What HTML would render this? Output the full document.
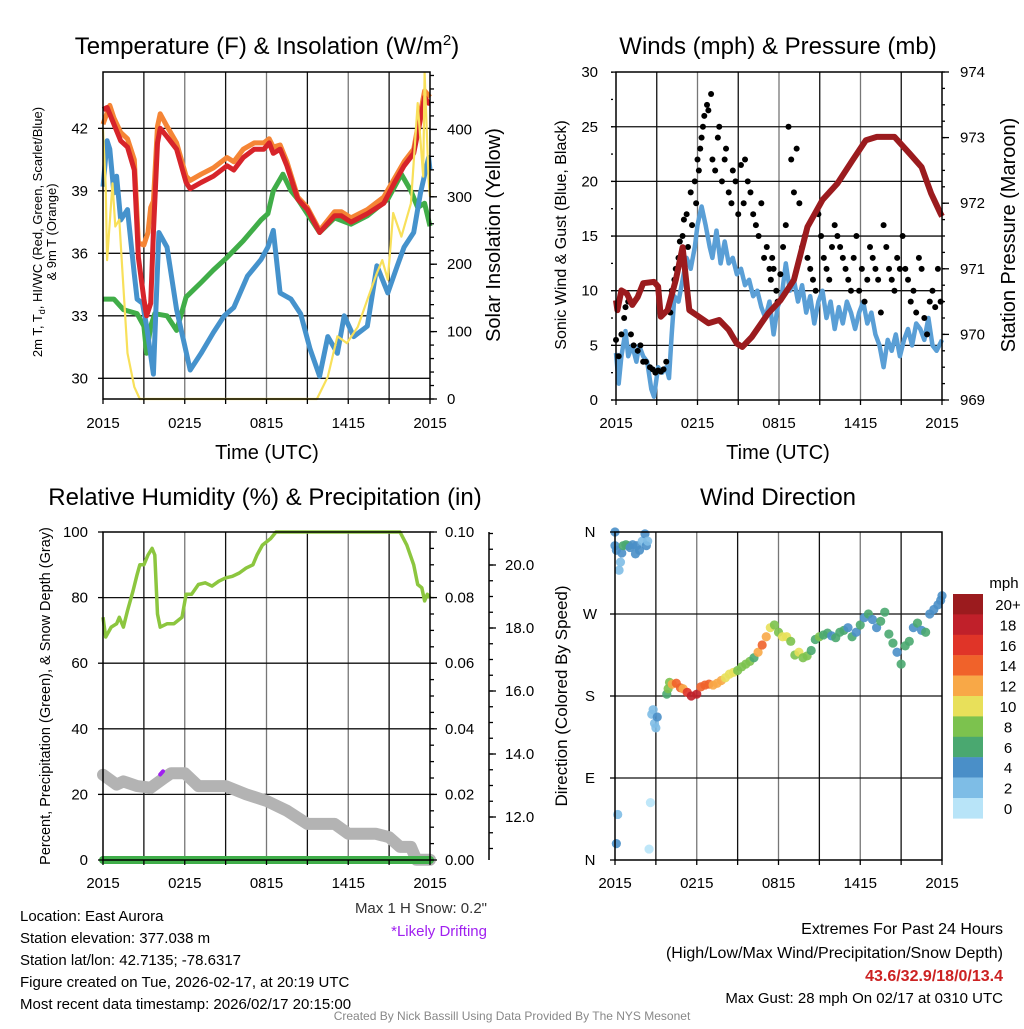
<!DOCTYPE html>
<html><head><meta charset="utf-8"><style>
body{margin:0;background:#fff}
svg text{font-family:"Liberation Sans",sans-serif;fill:#000}
</style></head><body>
<svg id="fig" xmlns="http://www.w3.org/2000/svg" width="1024" height="1024" viewBox="0 0 1024 1024">
<rect width="1024" height="1024" fill="#fff"/>
<g id="grid"></g>
<g id="series"></g>
<g id="frames" fill="none" stroke="#000" stroke-width="1.5">
<rect x="103" y="72" width="327" height="327"/>
<rect x="616" y="72" width="326" height="328"/>
<rect x="103" y="532" width="327" height="328"/>
<rect x="615" y="532" width="327" height="328"/>
<line x1="489" y1="532" x2="489" y2="860"/>
</g>
<g id="ticks"></g>
<g font-size="24" text-anchor="middle">
<text x="267" y="54">Temperature (F) &amp; Insolation (W/m<tspan dy="-9" font-size="15">2</tspan><tspan dy="9">)</tspan></text>
<text x="778" y="54">Winds (mph) &amp; Pressure (mb)</text>
<text x="265" y="505">Relative Humidity (%) &amp; Precipitation (in)</text>
<text x="778" y="505">Wind Direction</text>
</g>
<g font-size="20" text-anchor="middle">
<text x="267" y="459">Time (UTC)</text>
<text x="778" y="459">Time (UTC)</text>
<text transform="translate(500,235) rotate(-90)">Solar Insolation (Yellow)</text>
<text transform="translate(1015,235) rotate(-90)">Station Pressure (Maroon)</text>
</g>
<g font-size="13" text-anchor="middle">
<text transform="translate(42,232) rotate(-90)">2m T, T<tspan dy="3" font-size="9">d</tspan><tspan dy="-3">, HI/WC (Red, Green, Scarlet/Blue)</tspan></text>
<text transform="translate(56,232) rotate(-90)">&amp; 9m T (Orange)</text>
</g>
<text font-size="16" text-anchor="middle" transform="translate(566,235) rotate(-90)">Sonic Wind &amp; Gust (Blue, Black)</text>
<text font-size="14.5" text-anchor="middle" transform="translate(50,696) rotate(-90)">Percent, Precipitation (Green), &amp; Snow Depth (Gray)</text>
<text font-size="17" text-anchor="middle" transform="translate(567,696) rotate(-90)">Direction (Colored By Speed)</text>
<g id="labels" font-size="15"></g>
<g id="colorbar"></g>
<text x="1004" y="588" font-size="15" text-anchor="middle">mph</text>
<g font-size="15">
<text x="20" y="921">Location: East Aurora</text>
<text x="20" y="943">Station elevation: 377.038 m</text>
<text x="20" y="965">Station lat/lon: 42.7135; -78.6317</text>
<text x="20" y="987">Figure created on Tue, 2026-02-17, at 20:19 UTC</text>
<text x="20" y="1009">Most recent data timestamp: 2026/02/17 20:15:00</text>
<text x="487" y="913" text-anchor="end" style="fill:#333">Max 1 H Snow: 0.2"</text>
<text x="487" y="936" text-anchor="end" style="fill:#a020f0">*Likely Drifting</text>
<text x="1003" y="934" text-anchor="end" font-size="16">Extremes For Past 24 Hours</text>
<text x="1003" y="958" text-anchor="end" font-size="16">(High/Low/Max Wind/Precipitation/Snow Depth)</text>
<text x="1003" y="981" text-anchor="end" font-size="16" font-weight="bold" style="fill:#cc2222">43.6/32.9/18/0/13.4</text>
<text x="1003" y="1003" text-anchor="end" font-size="15">Max Gust: 28 mph On 02/17 at 0310 UTC</text>
<text x="512" y="1020" text-anchor="middle" font-size="12" style="fill:#888">Created By Nick Bassill Using Data Provided By The NYS Mesonet</text>
</g>
</svg>
<script>
// ---------- data ----------
const timeTicks = ["2015","0215","0815","1415","2015"];
const timeTickHours = [0,6,12,18,24];
const tempTicks = [30,33,36,39,42];
const solTicks = [0,100,200,300,400];
const windTicks = [0,5,10,15,20,25,30];
const presTicks = [969,970,971,972,973,974];
const rhTicks = [0,20,40,60,80,100];
const precTicks = ["0.00","0.02","0.04","0.06","0.08","0.10"];
const snowTicks = ["12.0","14.0","16.0","18.0","20.0"];
const dirTicks = ["N","E","S","W","N"];
const cbLabels = ["20+","18","16","14","12","10","8","6","4","2","0"];

const redH = [0,0.3,0.8,1.3,1.8,2.3,2.6,3.0,3.2,3.5,3.7,4.0,4.2,4.7,5.4,6.1,6.4,7.2,8.1,9.1,9.6,10.3,11.1,11.8,12.2,12.5,13.0,13.5,14.3,15.0,15.9,17.0,17.5,18.2,19.4,20.6,21.4,22.1,22.8,23.2,23.6,23.9,24];
const redT = [42.9,43.0,42.2,41.4,41.1,40.0,35.8,33.8,33.0,33.6,37.0,41.3,42.0,41.6,41.0,39.4,39.1,39.4,39.7,40.2,40.0,40.6,41.0,41.0,41.3,40.8,41.0,40.2,38.6,38.1,37.0,37.8,37.8,37.5,37.9,38.4,39.4,40.2,40.8,42.1,43.5,43.2,43.2];
const orH = [0,0.5,0.8,1.3,1.8,2.3,2.6,3.0,3.3,3.5,3.7,4.0,4.2,4.7,5.4,6.1,6.4,7.2,8.1,9.1,9.6,10.3,11.1,11.8,12.2,12.5,13.0,13.5,14.3,15.0,15.9,17.0,17.5,18.2,19.4,20.6,21.4,22.1,22.8,23.2,23.6,24];
const orT = [42.2,43.1,42.5,41.8,41.5,40.5,36.5,36.4,37.0,38.2,38.5,42.1,42.7,42.1,41.3,39.7,39.5,39.8,40.1,40.6,40.4,41.0,41.3,41.3,41.5,41.1,41.2,40.4,38.7,38.2,37.1,38.0,38.0,37.7,38.1,38.7,39.6,40.4,41.0,42.4,43.8,43.5];
const tdH = [0,0.8,1.5,2.5,3.0,3.2,3.5,3.8,4.7,5.4,6.1,7.2,8.1,9.1,10.3,11.6,12.1,12.5,13.2,13.8,14.3,15.9,17.0,18.2,19.4,20.9,21.9,22.6,23.1,23.6,24];
const tdT = [33.8,33.8,33.3,33.1,32.5,31.2,32.5,33.1,33.0,32.3,33.9,34.6,35.2,35.8,36.6,37.6,37.9,39.0,39.8,39.0,38.6,37.0,37.7,37.4,37.8,38.6,39.8,39.0,38.2,38.4,37.3];
const wcH = [0,0.3,0.5,0.8,1.0,1.3,1.8,2.3,2.5,2.9,3.2,3.7,4.1,4.7,5.4,6.4,7.2,8.1,8.9,9.6,10.6,11.6,12.1,12.5,13.0,13.8,14.5,15.2,15.9,16.5,17.2,17.7,18.4,19.4,20.1,20.9,21.6,22.1,22.8,23.3,23.9,24];
const wcT = [39.2,41.4,41.0,38.9,39.7,37.6,38.1,35.0,33.8,33.6,32.5,30.2,37.0,36.3,33.3,30.4,31.2,32.2,33.0,33.4,34.9,35.7,36.3,37.1,34.1,33.8,33.1,31.4,30.1,32.0,31.2,33.0,32.0,32.5,35.4,34.1,35.4,36.3,37.0,38.9,40.6,40.0];
const solH = [0,0.2,0.3,0.7,0.9,1.2,1.4,1.8,2.3,2.7,15.7,16.5,17.2,17.9,18.7,19.4,20.1,20.5,20.9,21.3,21.9,22.6,23.1,23.5,23.6,23.9,24];
const solW = [400,315,206,320,256,266,197,68,18,0,0,33,93,83,107,147,187,206,177,276,241,290,439,330,484,325,300];

const presH = [0,0.1,0.4,0.8,1.2,1.6,2.0,2.8,3.1,3.3,3.8,4.4,4.9,5.4,6.1,6.8,7.6,8.3,8.9,9.3,10.0,11.2,12.1,13.1,14.1,15.2,16.3,17.4,18.4,19.2,20.5,21.6,22.5,23.2,23.9,24];
const presV = [970.52,970.37,970.67,970.62,970.45,970.57,970.78,970.80,970.73,970.27,970.37,970.83,971.33,970.37,970.27,970.17,970.22,970.07,969.86,969.81,969.96,970.32,970.52,970.83,971.64,972.05,972.30,972.65,972.96,973.01,973.01,972.76,972.55,972.15,971.84,971.80];
const spdH = [0,0.2,0.4,0.7,0.9,1.2,1.5,1.7,2.0,2.3,2.6,2.8,3.1,3.4,3.7,3.9,4.1,4.3,4.6,4.9,5.2,5.5,5.8,6.0,6.3,6.6,6.9,7.1,7.4,7.7,8.0,8.3,8.6,8.9,9.2,9.5,9.8,10.1,10.4,10.7,11.0,11.3,11.6,11.9,12.2,12.5,12.8,13.1,13.4,13.7,14.0,14.3,14.6,14.9,15.2,15.5,15.8,16.1,16.4,16.7,17.0,17.3,17.6,17.9,18.2,18.5,18.8,19.1,19.4,19.7,20.0,20.3,20.6,20.9,21.2,21.5,21.8,22.1,22.4,22.7,23.0,23.3,23.6,24];
const spdV = [4.3,1.5,4,6.3,4,5,3.5,5,4,3.5,1,0.3,3,2.5,3,2,6,9.5,9,11,13,12,14,16,17.7,16,14,13,15.5,12.5,14.5,12.5,13,11.5,12,10.5,11,9.5,10,8.5,7.5,9,6,8.5,9.5,12.5,10,11,9,10.5,8,9.5,7,9,10,7.5,9,6.5,8.5,7,9,8,6.5,8,9,7,8,6,5,3,5.5,4.5,6,4,5.5,6.5,5,7,6.5,5.5,7.5,5,4.5,5.5];
const gustH = [0,0.2,0.4,0.6,0.7,0.9,1.1,1.3,1.6,1.8,2.0,2.2,2.5,2.7,2.9,3.1,3.3,3.5,3.7,4.0,4.1,4.3,4.4,4.6,4.7,4.9,5.0,5.2,5.3,5.5,5.6,5.8,5.9,6.0,6.1,6.2,6.3,6.4,6.5,6.7,6.8,7.0,7.1,7.3,7.5,7.6,7.8,8.0,8.1,8.3,8.5,8.6,8.8,9.0,9.2,9.4,9.5,9.7,9.9,10.1,10.3,10.5,10.7,10.9,11.1,11.3,11.4,11.5,11.6,11.8,11.9,12.1,12.3,12.5,12.7,12.9,13.1,13.3,13.5,13.7,13.9,14.1,14.3,14.5,14.7,14.9,15.1,15.3,15.5,15.7,15.9,16.1,16.3,16.5,16.7,16.9,17.1,17.3,17.5,17.7,17.9,18.1,18.3,18.5,18.7,18.9,19.1,19.3,19.5,19.7,19.9,20.1,20.3,20.5,20.7,20.9,21.1,21.3,21.5,21.7,21.9,22.1,22.3,22.5,22.7,22.9,23.1,23.3,23.5,23.7,23.9];
const gustV = [5.5,4,6,7.5,8.5,9,6,5,4.5,5,3.5,3.5,3,2.8,2.5,2.7,2.6,2.8,3.5,8,10,11,12,13,14.5,15,16.5,17,14,19,16,20,18,22,21,23,24,25,26,27,26.5,28,22,21,24,25,20,22,23,19,18,21,20,17,21.5,18,22,20,19,17,16,15,18,13,14,12,11,13,12,10,9,11.5,14,16,25,22,19,23,18,14,15,13,12,11,10,17,15,13,12,11,14,16,15,14,13,12,11,10,13,15,10,12,9,11,14,13,12,11,8,16,14,12,11,10,13,12,15,12,11,9,10,8,13,12,7.5,6,9,10,8.5,12,9,8,7.5];

const rhH = [0,0.2,0.6,1.0,1.2,1.5,1.8,2.2,2.5,2.7,3.0,3.3,3.6,3.8,4.0,4.2,4.7,5.2,5.8,6.1,6.5,7.0,7.5,8.0,8.5,9.0,9.5,10.0,10.5,11.0,11.3,11.7,12.3,12.7,21.8,22.3,22.8,23.1,23.4,23.6,23.8,24];
const rhV = [74,68,71,72,74,71,76,82,87,90,90,93,95,93,75,71,72,72,74,81,81,84,84.5,83.5,85,86,86.5,87.5,89,90,93,96,98,100,100,96,90,84,83,79,81,80];
const snowH = [0,1,1.5,2.5,3.5,4.5,5,6,7,9,10.5,12,13.5,15,17,18,20,21,21.8,22.6,23,24];
const snowV = [13.34,13.03,13.13,12.98,12.93,13.24,13.39,13.39,12.98,12.98,12.72,12.51,12.20,11.78,11.78,11.47,11.47,11.36,11.05,11.05,10.64,10.64];
const precH = [0,24];
const precV = [0,0];

const dirH = [0,0,0.1,0.3,0.4,0.5,0.6,0.8,1.0,1.1,1.3,1.5,1.6,1.8,2.0,2.2,2.3,2.4,0.2,0.1,2.6,2.5,2.7,2.8,2.9,3.0,3.1,3.8,3.9,4.0,4.2,4.5,4.8,5.0,5.3,5.6,6.0,6.3,6.6,6.9,7.2,7.5,7.8,8.1,8.4,8.7,9.0,9.3,9.6,9.9,10.2,10.5,10.8,11.1,11.4,11.7,12.0,12.3,12.6,12.9,13.2,13.5,13.8,14.1,14.4,14.7,15.0,15.3,15.6,15.9,16.2,16.5,16.8,17.1,17.4,17.7,18.0,18.3,18.6,18.9,19.2,19.5,19.8,20.1,20.4,20.7,21.0,21.3,21.6,21.9,22.2,22.5,22.8,23.1,23.4,23.7,23.9,24];
const dirD = [360,345,340,318,327,337,345,346,345,343,346,336,345,340,350,358,345,350,50,18,63,12,160,165,150,145,157,182,188,195,193,194,189,188,184,180,182,190,192,193,192,194,197,200,204,206,208,212,215,218,222,228,236,245,255,258,250,245,245,240,225,228,222,224,230,242,245,247,249,246,244,250,252,255,245,250,258,266,270,264,255,262,272,248,238,228,215,235,240,255,260,252,250,270,275,280,285,290];
const dirS = [4,4,4,2,2,4,6,6,6,4,4,4,4,4,2,4,4,2,1,4,0,0,2,2,2,2,4,6,8,8,12,14,14,12,16,18,18,14,14,14,12,12,12,10,10,10,8,8,8,8,6,12,14,12,10,8,8,10,10,8,8,10,8,8,6,6,8,6,6,4,6,6,6,4,6,4,6,4,6,4,4,6,6,6,6,4,6,6,6,4,6,4,6,4,4,4,4,4];

// ---------- helpers ----------
const NS = "http://www.w3.org/2000/svg";
function mk(parent, tag, attrs){const e=document.createElementNS(NS,tag);for(const k in attrs)e.setAttribute(k,attrs[k]);document.getElementById(parent).appendChild(e);return e;}
const xA = h => 103 + h*13.625;
const xB = h => 616 + h*13.583;
const xD = h => 615 + h*13.625;
const yT = t => 378.3 - (t-30)*20.83;
const yI = w => 399 - w*0.674;
const yW = v => 400 - v*10.93;
const yP = p => 400 - (p-969)*65.6;
const yR = p => 860 - p*3.28;
const yPr = v => 860 - v*3280;
const ySn = s => 565 + (20-s)*31.5;
const yDir = d => 860 - d*0.9111;
function path(xs, ys, fx, fy){const n=Math.min(xs.length,ys.length);let s="";for(let i=0;i<n;i++){s+=(i?"L":"M")+fx(xs[i]).toFixed(1)+","+fy(ys[i]).toFixed(1);}return s;}
function speedColor(s){const c=["#b8e4f8","#7ebde6","#4a8fc8","#4aa870","#7cc24e","#e8e05a","#f8a847","#f0622a","#e03428","#c0202a","#9b1b1e"];return c[Math.min(10,Math.floor((s+1)/2))];}

// ---------- grid ----------
const vHours = [3,6,9,12,15,18,21];
vHours.forEach(h=>{
  let g=mk("grid","line",{x1:xA(h),y1:72,x2:xA(h),y2:399,stroke:h%6?"#111":"#777","stroke-width":1.3});
  
  
  g=mk("grid","line",{x1:xB(h),y1:72,x2:xB(h),y2:400,stroke:h%6?"#111":"#777","stroke-width":1.3});
  
  
  g=mk("grid","line",{x1:xA(h),y1:532,x2:xA(h),y2:860,stroke:h%6?"#111":"#777","stroke-width":1.3});
  
  
  g=mk("grid","line",{x1:xD(h),y1:532,x2:xD(h),y2:860,stroke:h%6?"#111":"#777","stroke-width":1.3});
  
  
});
tempTicks.forEach(t=>{const g=mk("grid","line",{x1:103,y1:yT(t),x2:430,y2:yT(t),stroke:"#111","stroke-width":1.3});
  
  });
windTicks.slice(1,6).forEach(v=>{const g=mk("grid","line",{x1:616,y1:yW(v),x2:942,y2:yW(v),stroke:"#111","stroke-width":1.3});
  
  });
rhTicks.slice(1,5).forEach(v=>{const g=mk("grid","line",{x1:103,y1:yR(v),x2:430,y2:yR(v),stroke:"#111","stroke-width":1.3});
  
  });
[90,180,270].forEach(d=>{const g=mk("grid","line",{x1:615,y1:yDir(d),x2:942,y2:yDir(d),stroke:"#111","stroke-width":1.3});
  
  });

// ---------- ticks & labels ----------
function lab(x,y,txt,anchor,name){const e=mk("labels","text",{x:x,y:y,"text-anchor":anchor});e.textContent=txt;
  
  }
function tk(x1,y1,x2,y2){const e=mk("ticks","line",{x1:x1,y1:y1,x2:x2,y2:y2,stroke:"#000","stroke-width":1.3});
  
  }
timeTickHours.forEach((h,i)=>{
  lab(xA(h),428,timeTicks[i],"middle","temp-x-tick-label");
  lab(xB(h),428,timeTicks[i],"middle","wind-x-tick-label");
  lab(xA(h),888,timeTicks[i],"middle","rh-x-tick-label");
  lab(xD(h),888,timeTicks[i],"middle","dir-x-tick-label");
});
[0,3,6,9,12,15,18,21,24].forEach(h=>{tk(xA(h),399,xA(h),404);tk(xB(h),400,xB(h),405);tk(xA(h),860,xA(h),865);tk(xD(h),860,xD(h),865);});
tempTicks.forEach(t=>{lab(88,yT(t)+5,String(t),"end","temp-y-tick-label");tk(98,yT(t),103,yT(t));});
solTicks.forEach(w=>{lab(447,yI(w)+5,String(w),"start","insolation-tick-label");tk(430,yI(w),437,yI(w));});
for(let w=0;w<=480;w+=20){tk(430,yI(w),434,yI(w));}
windTicks.forEach(v=>{lab(598,yW(v)+5,String(v),"end","wind-y-tick-label");tk(611,yW(v),616,yW(v));});
for(let v=0;v<=30;v+=2.5){tk(611,yW(v),613,yW(v));}
presTicks.forEach(p=>{lab(960,yP(p)+5,String(p),"start","pressure-tick-label");tk(942,yP(p),949,yP(p));});
for(let p=969;p<=974;p+=0.25){tk(942,yP(p),945,yP(p));}
rhTicks.forEach(v=>{lab(88,yR(v)+5,String(v),"end","rh-y-tick-label");tk(98,yR(v),103,yR(v));});
precTicks.forEach((s,i)=>{lab(445,yR(i*20)+5,s,"start","precip-tick-label");tk(430,yR(i*20),437,yR(i*20));});
for(let v=0;v<=100;v+=5){tk(430,yR(v),434,yR(v));}
snowTicks.forEach(s=>{lab(505,ySn(+s)+5,s,"start","snow-tick-label");tk(489,ySn(+s),496,ySn(+s));});
for(let s=11;s<=21;s+=0.5){tk(489,ySn(s),493,ySn(s));}
dirTicks.forEach((d,i)=>{lab(590,yDir(i*90)+5,d,"middle","dir-y-tick-label");tk(610,yDir(i*90),615,yDir(i*90));});

// ---------- temperature panel ----------
let e;
e=mk("series","path",{d:path(tdH,tdT,xA,yT),fill:"none",stroke:"#40ad48","stroke-width":5,"stroke-linejoin":"round"});


e=mk("series","path",{d:path(wcH,wcT,xA,yT),fill:"none",stroke:"#4592cc","stroke-width":5,"stroke-linejoin":"round"});


e=mk("series","path",{d:path(orH,orT,xA,yT),fill:"none",stroke:"#f58535","stroke-width":5,"stroke-linejoin":"round"});


e=mk("series","path",{d:path(redH,redT,xA,yT),fill:"none",stroke:"#d7242a","stroke-width":5,"stroke-linejoin":"round"});


e=mk("series","path",{d:path(solH,solW,xA,yI),fill:"none",stroke:"#f8e05a","stroke-width":2.2,"stroke-linejoin":"round"});



// ---------- wind panel ----------
e=mk("series","path",{d:path(spdH,spdV,xB,yW),fill:"none",stroke:"#5a9fd6","stroke-width":4.5,"stroke-linejoin":"round"});


const nG=Math.min(gustH.length,gustV.length);
for(let i=0;i<nG;i++){const c=mk("series","circle",{cx:xB(gustH[i]),cy:yW(gustV[i]),r:3,fill:"#000"});
  
  }
e=mk("series","path",{d:path(presH,presV,xB,yP),fill:"none",stroke:"#9b1b1e","stroke-width":6,"stroke-linejoin":"round"});



// ---------- RH panel ----------
e=mk("series","path",{d:path(snowH,snowV,xA,ySn),fill:"none",stroke:"#b3b3b3","stroke-width":12,"stroke-linejoin":"round","stroke-linecap":"round"});


e=mk("series","path",{d:path(rhH,rhV,xA,yR),fill:"none",stroke:"#8cc63f","stroke-width":3.5,"stroke-linejoin":"round"});


e=mk("series","path",{d:path(precH,precV,xA,yPr),fill:"none",stroke:"#3fae49","stroke-width":8,"stroke-linecap":"round"});


e=mk("series","line",{x1:xA(4.2),y1:ySn(13.35),x2:xA(4.4),y2:ySn(13.45),stroke:"#a020f0","stroke-width":4,"stroke-linecap":"round"});



// ---------- direction panel ----------
const nD=Math.min(dirH.length,dirD.length,dirS.length);
for(let i=0;i<nD;i++){const c=mk("series","circle",{cx:xD(dirH[i]),cy:yDir(dirD[i]),r:4.6,fill:speedColor(dirS[i]),"fill-opacity":0.9});
  
  }
const cbColors=["#9b1b1e","#c0202a","#e03428","#f0622a","#f8a847","#e8e05a","#7cc24e","#4aa870","#4a8fc8","#7ebde6","#b8e4f8"];
cbLabels.forEach((l,i)=>{
  const r=mk("colorbar","rect",{x:953,y:594+i*20.4,width:30,height:20.6,fill:cbColors[i]});
  
  
  const t=mk("colorbar","text",{x:1008,y:594+i*20.4+16,"text-anchor":"middle","font-size":15});
  t.textContent=l;
  
  
});
</script>
</body></html>
